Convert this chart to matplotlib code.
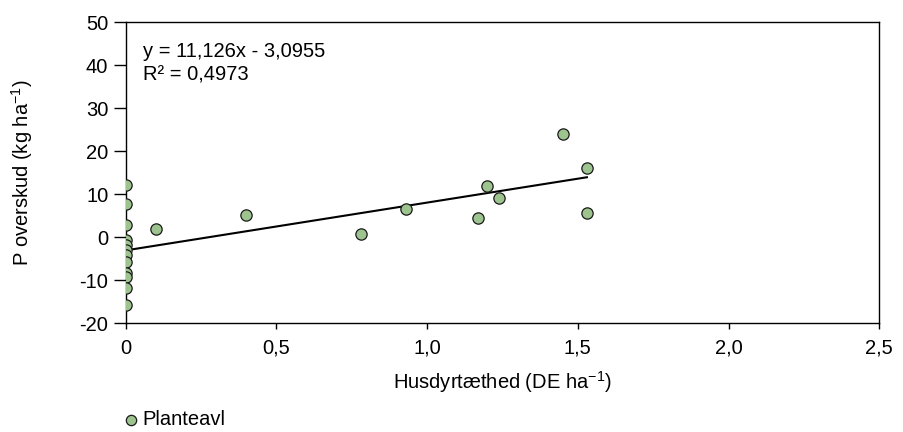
import numpy as np
import matplotlib
matplotlib.use('Agg')
import matplotlib.pyplot as plt

plt.rcParams['font.family'] = ['Liberation Sans', 'DejaVu Sans']
plt.rcParams['mathtext.fontset'] = 'custom'
plt.rcParams['mathtext.rm'] = 'Liberation Sans'
plt.rcParams['mathtext.it'] = 'Liberation Sans'
plt.rcParams['mathtext.default'] = 'regular'
plt.rcParams['axes.unicode_minus'] = False

# data: husdyrtaethed (DE/ha) vs P overskud (kg/ha)
husdyr = [0, 0, 0, 0, 0, 0, 0, 0, 0, 0, 0, 0,
          0.10, 0.40, 0.78, 0.93, 1.17, 1.20, 1.24, 1.45, 1.53, 1.53]
p_overskud = [12.2, 7.7, 2.9, -0.6, -1.8, -3.0, -4.2, -5.8, -8.3, -9.2, -11.8, -15.8,
              1.9, 5.2, 0.7, 6.6, 4.5, 11.9, 9.0, 24.1, 16.0, 5.7]

# regressionslinje som angivet i figuren
haeldning = 11.126
skaering = -3.0955
r2 = 0.4973

x_ticks = [0, 0.5, 1.0, 1.5, 2.0, 2.5]
x_labels = ['0', '0,5', '1,0', '1,5', '2,0', '2,5']
y_ticks = [-20, -10, 0, 10, 20, 30, 40, 50]

fs = 14.5

fig = plt.figure(figsize=(9.04, 4.32), dpi=100)
ax = fig.add_axes([0.139, 0.2523, 0.8337, 0.6961])

x_fit = np.array([min(husdyr), max(husdyr)])
ax.plot(x_fit, haeldning * x_fit + skaering, color='black', linewidth=1.5, zorder=2)

ax.scatter(husdyr, p_overskud, s=66, facecolor='#9dc48f', edgecolor='#1a1a1a',
           linewidth=0.9, zorder=3, label='Planteavl')

ax.set_xlim(0, 2.5)
ax.set_ylim(-20, 50)
ax.set_xticks(x_ticks)
ax.set_xticklabels(x_labels)
ax.set_yticks(y_ticks)
ax.tick_params(axis='x', direction='out', length=4.5, width=1, pad=7, labelsize=fs)
ax.tick_params(axis='y', direction='out', length=9, width=1, pad=3.5, labelsize=fs)
for sp in ax.spines.values():
    sp.set_linewidth(1.0)
    sp.set_color('black')

ax.set_xlabel('Husdyrtæthed (DE ha$^{-1}$)', fontsize=fs, labelpad=8)
ax.set_ylabel('P overskud (kg ha$^{-1}$)', fontsize=fs, labelpad=32)

tekst = 'y = ' + f'{haeldning:.3f}'.replace('.', ',') + 'x - ' + \
        f'{-skaering:.4f}'.replace('.', ',') + '\nR² = ' + f'{r2:.4f}'.replace('.', ',')
ax.text(0.0235, 0.935, tekst, transform=ax.transAxes, fontsize=fs,
        va='top', ha='left', linespacing=1.3)

handles, labels = ax.get_legend_handles_labels()
leg = fig.legend(handles, labels, loc='center left', bbox_to_anchor=(0.136, 0.028),
                 frameon=False, fontsize=fs, handletextpad=0.15,
                 handlelength=0.8, borderpad=0, borderaxespad=0)
for h in leg.legend_handles:
    h.set_sizes([55])

fig.savefig('out.png', dpi=100)
